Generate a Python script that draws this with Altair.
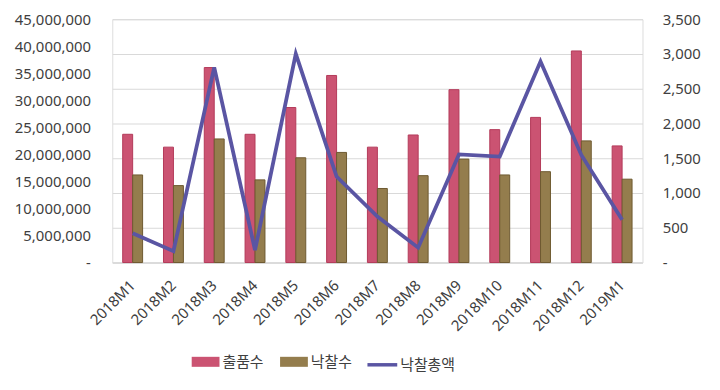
import altair as alt
import pandas as pd

months = ['2018M1', '2018M2', '2018M3', '2018M4', '2018M5', '2018M6', '2018M7',
          '2018M8', '2018M9', '2018M10', '2018M11', '2018M12', '2019M1']
exhibits = [1845, 1660, 2805, 1845, 2230, 2691, 1660, 1835, 2487, 1912, 2088, 3044, 1678]
sold = [1260, 1107, 1778, 1189, 1507, 1584, 1065, 1250, 1488, 1260, 1307, 1750, 1199]
total_amount = [5400000, 2100000, 36100000, 2300000, 38600000, 15900000, 8500000,
                2750000, 20000000, 19600000, 37200000, 19900000, 7900000]

bar_names = ['출품수', '낙찰수']
line_name = '낙찰총액'

bar_df = pd.DataFrame({
    'month': months * 2,
    'series': [bar_names[0]] * len(months) + [bar_names[1]] * len(months),
    'value': exhibits + sold,
})
line_df = pd.DataFrame({'month': months, 'value': total_amount, 'series': [line_name] * len(months)})

FONT = "Noto Sans"
KFONT = "Noto Sans CJK KR"
TXT = "#404040"

x_enc = alt.X('month:N', sort=months, title=None,
              scale=alt.Scale(paddingInner=0.512, paddingOuter=0.256),
              axis=alt.Axis(labelAngle=-45, labelFontSize=15, labelFont=FONT, labelColor=TXT,
                            ticks=False, domainColor='#d9d9d9', domainWidth=1.5,
                            labelPadding=20, labelAlign='right', labelBaseline='middle'))

bars = alt.Chart(bar_df).mark_bar(strokeWidth=1).encode(
    x=x_enc,
    xOffset=alt.XOffset('series:N', sort=bar_names, scale=alt.Scale(paddingInner=0, paddingOuter=0)),
    y=alt.Y('value:Q', title=None,
            scale=alt.Scale(domain=[0, 3500], nice=False),
            axis=alt.Axis(orient='right', values=[0, 500, 1000, 1500, 2000, 2500, 3000, 3500],
                          labelExpr="datum.value == 0 ? '-' : format(datum.value, ',')",
                          labelFontSize=15, labelFont=FONT, labelColor=TXT,
                          ticks=False, domain=False, labelPadding=20,
                          grid=True, gridColor='#d9d9d9', gridWidth=1.2)),
    color=alt.Color('series:N', sort=bar_names,
                    scale=alt.Scale(domain=bar_names, range=['#CB5372', '#947D4D']),
                    legend=alt.Legend(title=None, orient='none', legendX=80, legendY=331,
                                      direction='horizontal', labelFont=KFONT, labelFontSize=15,
                                      labelColor=TXT, symbolType='M-1,-0.36H1V0.36H-1Z',
                                      symbolSize=784, symbolStrokeWidth=0, labelOffset=3,
                                      columnPadding=16, padding=0, symbolOpacity=1)),
    stroke=alt.Stroke('series:N', sort=bar_names,
                      scale=alt.Scale(domain=bar_names, range=['#B33A5A', '#6E5A30']),
                      legend=None),
)

line = alt.Chart(line_df).mark_line(strokeWidth=3.8, strokeJoin='miter').encode(
    x=alt.X('month:N', sort=months),
    y=alt.Y('value:Q', title=None,
            scale=alt.Scale(domain=[0, 45000000], nice=False),
            axis=alt.Axis(orient='left', values=list(range(0, 45000001, 5000000)),
                          labelExpr="datum.value == 0 ? '-' : format(datum.value, ',')",
                          labelFontSize=15, labelFont=FONT, labelColor=TXT,
                          ticks=False, domain=False, grid=False, labelPadding=22)),
    stroke=alt.Stroke('series:N',
                      scale=alt.Scale(domain=[line_name], range=['#5A55A3']),
                      legend=alt.Legend(title=None, orient='none', legendX=255, legendY=331,
                                        labelFont=KFONT, labelFontSize=15, labelColor=TXT,
                                        symbolType='M-1,0H1', symbolSize=900,
                                        symbolStrokeWidth=3.5, labelOffset=1, padding=0)),
)

chart = alt.layer(bars, line).resolve_scale(
    y='independent', color='independent', stroke='independent'
).properties(
    width=534, height=245,
    padding={"left": 105, "top": 10, "right": 70, "bottom": 120},
    autosize=alt.AutoSizeParams(type="none"),
).configure_view(stroke=None).configure(background='white')

chart.save("out.html", embed_options={"renderer": "svg", "actions": False})
